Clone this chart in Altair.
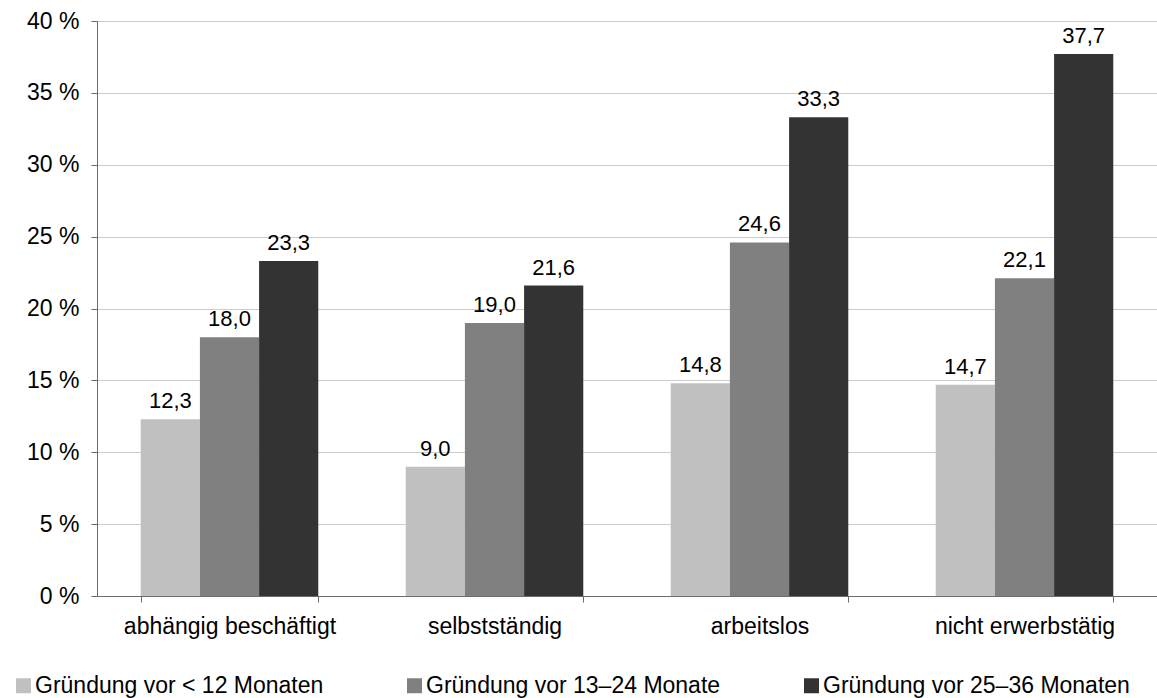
import altair as alt
import pandas as pd

categories = ["abhängig beschäftigt", "selbstständig", "arbeitslos", "nicht erwerbstätig"]
series = ["Gründung vor < 12 Monaten", "Gründung vor 13–24 Monate", "Gründung vor 25–36 Monaten"]
v_12 = [12.3, 9.0, 14.8, 14.7]
v_24 = [18.0, 19.0, 24.6, 22.1]
v_36 = [23.3, 21.6, 33.3, 37.7]
colors = ["#c0c0c0", "#808080", "#333333"]
y_ticks = [0, 5, 10, 15, 20, 25, 30, 35, 40]

rows = []
for i, c in enumerate(categories):
    for s, vals in zip(series, [v_12, v_24, v_36]):
        rows.append({"cat": c, "series": s, "value": vals[i]})
df = pd.DataFrame(rows)

FONT = "Liberation Sans"

base = alt.Chart(df).transform_calculate(
    label="replace(format(datum.value, '.1f'), '.', ',')"
).encode(
    x=alt.X(
        "cat:N",
        sort=categories,
        scale=alt.Scale(paddingInner=0.33, paddingOuter=0.165),
        axis=alt.Axis(
            title=None,
            labelAngle=0,
            tickBand="extent",
            labelFontSize=23,
            labelColor="#000000",
            labelFont=FONT,
            labelPadding=13,
            labelLimit=0,
            tickSize=6,
            tickColor="#6b6b6b",
            domainColor="#6b6b6b",
            grid=False,
        ),
    ),
    xOffset=alt.XOffset("series:N", sort=series, scale=alt.Scale(paddingInner=0, paddingOuter=0)),
    y=alt.Y(
        "value:Q",
        scale=alt.Scale(domain=[0, 40], nice=False),
        axis=alt.Axis(
            title=None,
            values=y_ticks,
            labelExpr="datum.value + ' %'",
            labelFontSize=23,
            labelColor="#000000",
            labelFont=FONT,
            labelPadding=12,
            tickSize=6,
            tickColor="#6b6b6b",
            domainColor="#6b6b6b",
            grid=True,
            gridColor="#cccccc",
            gridWidth=1,
        ),
    ),
)

bars = base.mark_bar().encode(
    color=alt.Color(
        "series:N",
        sort=series,
        scale=alt.Scale(domain=series, range=colors),
        legend=alt.Legend(
            title=None,
            orient="none",
            legendX=-85,
            legendY=653,
            direction="horizontal",
            symbolType="square",
            symbolSize=225,
            symbolStrokeWidth=0,
            symbolOpacity=1,
            labelFontSize=23,
            labelFont=FONT,
            labelColor="#000000",
            labelOffset=0,
            labelLimit=0,
            columnPadding=79,
            padding=0,
        ),
    )
)

text = base.mark_text(
    baseline="alphabetic", dy=-11, fontSize=22, font=FONT, color="#000000"
).encode(text="label:N")

chart = (
    alt.layer(bars, text)
    .properties(
        width=1060,
        height=575,
        autosize=alt.AutoSizeParams(type="none"),
        padding={"left": 97, "top": 21, "right": 0, "bottom": 102},
    )
    .configure_view(stroke=None)
    .configure(font=FONT)
)

chart.save("out.html", embed_options={"renderer": "svg", "actions": False})
